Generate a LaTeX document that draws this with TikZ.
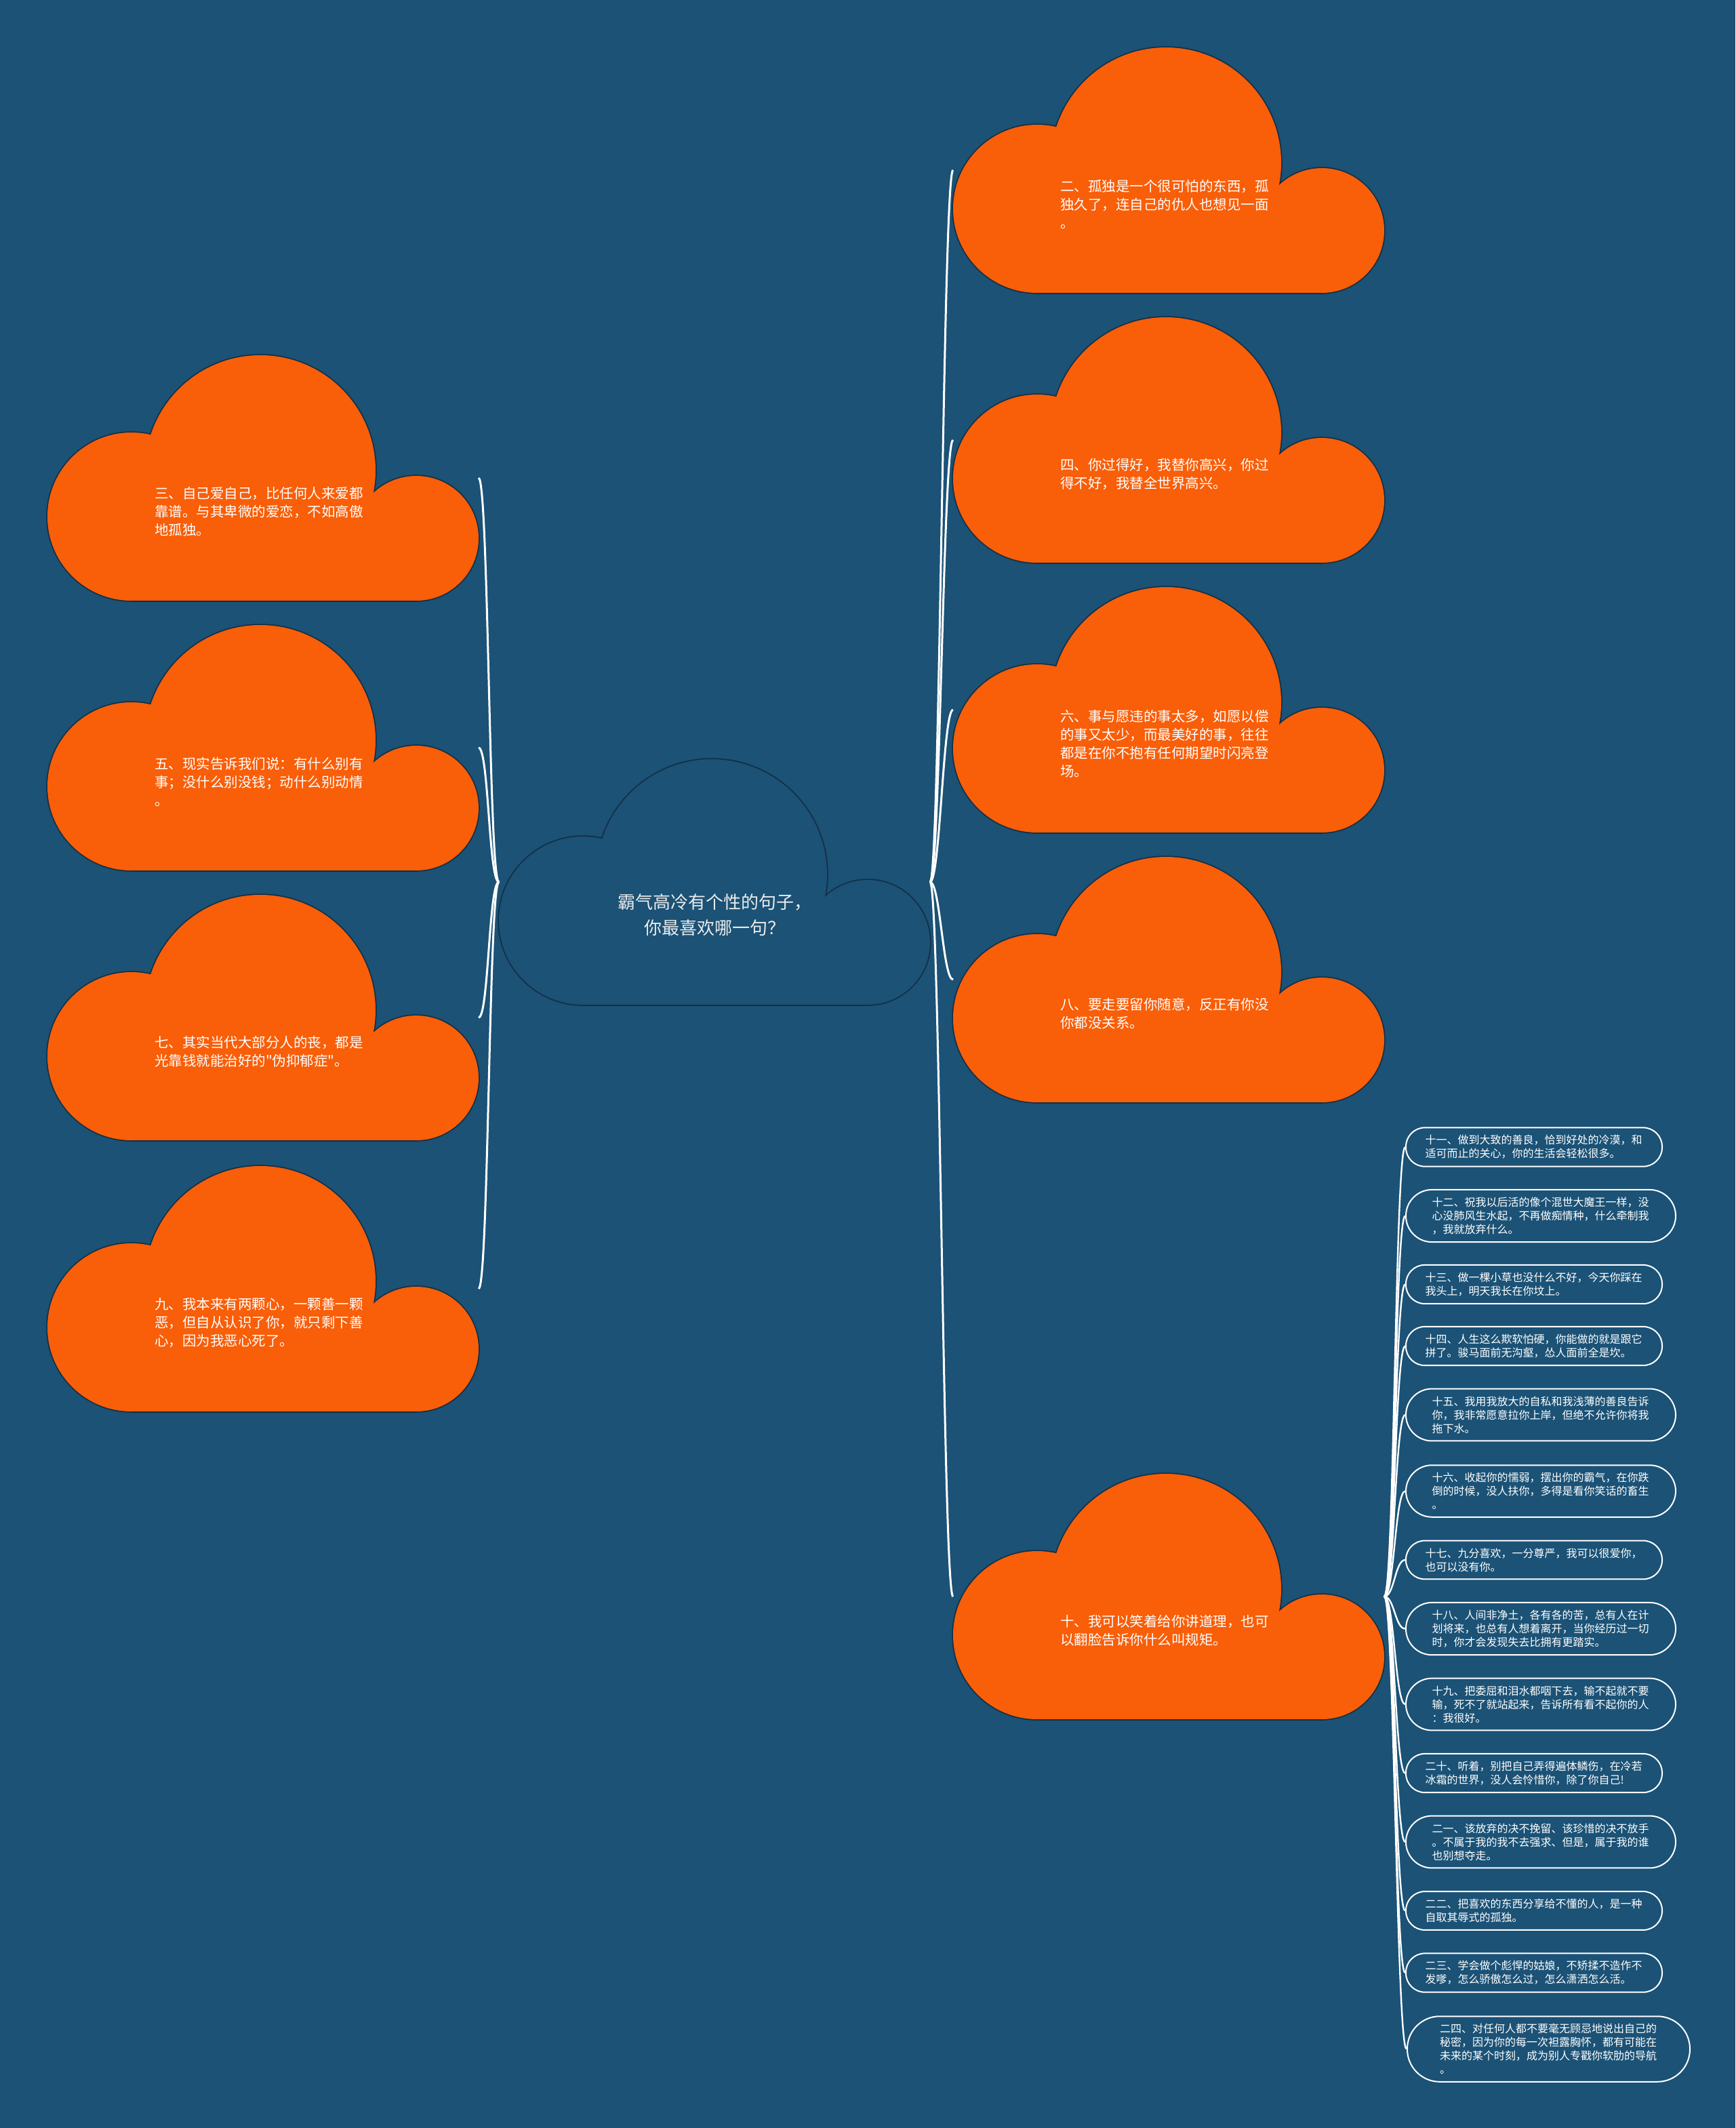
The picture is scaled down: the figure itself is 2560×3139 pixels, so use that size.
\documentclass[tikz,border=0pt]{standalone}
\usepackage{fontspec}
\setmainfont{Noto Sans CJK SC}
\newfontfamily\qfont{Noto Sans CJK SC}
\definecolor{bgc}{RGB}{27,82,118}
\definecolor{orng}{RGB}{249,94,8}
\definecolor{cline}{RGB}{20,46,68}
\definecolor{ctext}{RGB}{236,236,236}
\tikzset{
  cloudbox/.style={minimum width=636pt,minimum height=362pt,inner sep=0pt,outer sep=0pt},
  cloudtext/.style={anchor=west,inner sep=0pt,text width=312pt,align=left,text=white,font=\fontsize{20.5}{27}\selectfont},
  pillbase/.style={rectangle,draw=white,line width=2pt,text=white,inner ysep=11pt,text width=321pt,align=left,anchor=west,font=\fontsize{16}{20}\selectfont},
  ptwo/.style={pillbase,inner xsep=28.5pt,rounded corners=28pt},
  pthree/.style={pillbase,inner xsep=38.5pt,rounded corners=38.5pt},
  pfour/.style={pillbase,inner xsep=48pt,rounded corners=48pt},
  conn/.style={draw=white,line width=3pt},
  subconn/.style={draw=white,line width=2.4pt}
}
\newcommand\mycloud[4]{%
  \node[cloudbox] (#1) at (#2+318,#3+181) {};
  \begin{scope}[shift={(#2,#3)}]
    \path[draw=cline,line width=3.5pt] (314,170) circle[radius=170pt];
    \path[draw=cline,line width=3.5pt] (124,238) circle[radius=124pt];
    \path[draw=cline,line width=3.5pt] (544,270) circle[radius=92pt];
    \path[draw=cline,line width=3.5pt] (124,240) rectangle (544,362);
    \path[fill=#4] (314,170) circle[radius=170pt];
    \path[fill=#4] (124,238) circle[radius=124pt];
    \path[fill=#4] (544,270) circle[radius=92pt];
    \path[fill=#4] (124,240) rectangle (544,362);
  \end{scope}}
\begin{document}
\begin{tikzpicture}[x=1pt,y=-1pt]
\useasboundingbox (0,0) rectangle (2560,3139);
\fill[bgc] (0,0) rectangle (2560,3139);

% clouds
\mycloud{cc}{736}{1120}{bgc}
\mycloud{c2}{1406}{70}{orng}
\mycloud{c4}{1406}{468}{orng}
\mycloud{c6}{1406}{866}{orng}
\mycloud{c8}{1406}{1264}{orng}
\mycloud{c10}{1406}{2174}{orng}
\mycloud{c3}{70}{524}{orng}
\mycloud{c5}{70}{922}{orng}
\mycloud{c7}{70}{1320}{orng}
\mycloud{c9}{70}{1720}{orng}

% texts
\node[text=ctext,align=center,inner sep=0pt,font=\fontsize{26}{38}\selectfont] (ct) at (1054,1350) {霸气高冷有个性的句子，\\你最喜欢哪一句？};
\node[cloudtext] (t2) at (1564,301) {二、孤独是一个很可怕的东西，孤\\独久了，连自己的仇人也想见一面\\。};
\node[cloudtext] (t4) at (1564,699) {四、你过得好，我替你高兴，你过\\得不好，我替全世界高兴。};
\node[cloudtext] (t6) at (1564,1097) {六、事与愿违的事太多，如愿以偿\\的事又太少，而最美好的事，往往\\都是在你不抱有任何期望时闪亮登\\场。};
\node[cloudtext] (t8) at (1564,1495) {八、要走要留你随意，反正有你没\\你都没关系。};
\node[cloudtext] (t10) at (1564,2405) {十、我可以笑着给你讲道理，也可\\以翻脸告诉你什么叫规矩。};
\node[cloudtext] (t3) at (228,755) {三、自己爱自己，比任何人来爱都\\靠谱。与其卑微的爱恋，不如高傲\\地孤独。};
\node[cloudtext] (t5) at (228,1153) {五、现实告诉我们说：有什么别有\\事；没什么别没钱；动什么别动情\\。};
\node[cloudtext] (t7) at (228,1551) {七、其实当代大部分人的丧，都是\\光靠钱就能治好的{\qfont "}伪抑郁症{\qfont "}。};
\node[cloudtext] (t9) at (228,1951) {九、我本来有两颗心，一颗善一颗\\恶，但自从认识了你，就只剩下善\\心，因为我恶心死了。};

% list items
\node[ptwo] (i11) at (2073,1692) {十一、做到大致的善良，恰到好处的冷漠，和\\适可而止的关心，你的生活会轻松很多。};
\node[pthree] (i12) at (2073,1793.5) {十二、祝我以后活的像个混世大魔王一样，没\\心没肺风生水起，不再做痴情种，什么牵制我\\，我就放弃什么。};
\node[ptwo] (i13) at (2073,1894.5) {十三、做一棵小草也没什么不好，今天你踩在\\我头上，明天我长在你坟上。};
\node[ptwo] (i14) at (2073,1985.5) {十四、人生这么欺软怕硬，你能做的就是跟它\\拼了。骏马面前无沟壑，怂人面前全是坎。};
\node[pthree] (i15) at (2073,2087) {十五、我用我放大的自私和我浅薄的善良告诉\\你，我非常愿意拉你上岸，但绝不允许你将我\\拖下水。};
\node[pthree] (i16) at (2073,2199.5) {十六、收起你的懦弱，摆出你的霸气，在你跌\\倒的时候，没人扶你，多得是看你笑话的畜生\\。};
\node[ptwo] (i17) at (2073,2301) {十七、九分喜欢，一分尊严，我可以很爱你，\\也可以没有你。};
\node[pthree] (i18) at (2073,2402.5) {十八、人间非净土，各有各的苦，总有人在计\\划将来，也总有人想着离开，当你经历过一切\\时，你才会发现失去比拥有更踏实。};
\node[pthree] (i19) at (2073,2514) {十九、把委屈和泪水都咽下去，输不起就不要\\输，死不了就站起来，告诉所有看不起你的人\\：我很好。};
\node[ptwo] (i20) at (2073,2615.5) {二十、听着，别把自己弄得遍体鳞伤，在冷若\\冰霜的世界，没人会怜惜你，除了你自己!};
\node[pthree] (i21) at (2073,2717) {二一、该放弃的决不挽留、该珍惜的决不放手\\。不属于我的我不去强求、但是，属于我的谁\\也别想夺走。};
\node[ptwo] (i22) at (2073,2818.5) {二二、把喜欢的东西分享给不懂的人，是一种\\自取其辱式的孤独。};
\node[ptwo] (i23) at (2073,2910) {二三、学会做个彪悍的姑娘，不矫揉不造作不\\发嗲，怎么骄傲怎么过，怎么潇洒怎么活。};
\node[pfour] (i24) at (2075,3022.5) {二四、对任何人都不要毫无顾忌地说出自己的\\秘密，因为你的每一次袒露胸怀，都有可能在\\未来的某个时刻，成为别人专戳你软肋的导航\\。};

% main connectors
\foreach \n in {c3,c5,c7,c9}
  \draw[conn] (cc.west) .. controls +(-15,0) and +(15,0) .. (\n.east);
\foreach \n in {c2,c4,c6,c8,c10}
  \draw[conn] (cc.east) .. controls +(15,0) and +(-15,0) .. (\n.west);
% sub connectors
\foreach \n in {i11,i12,i13,i14,i15,i16,i17,i18,i19,i20,i21,i22,i23,i24}
  \draw[subconn] (c10.east) .. controls +(15,0) and +(-15,0) .. (\n.west);
\end{tikzpicture}
\end{document}
